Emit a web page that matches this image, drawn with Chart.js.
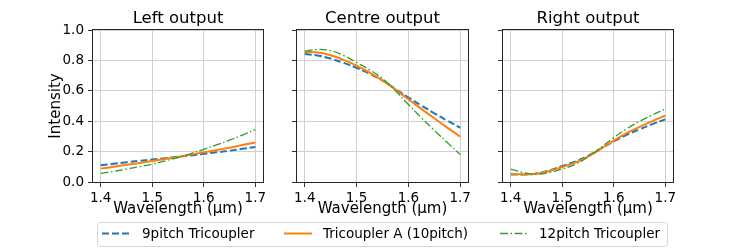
<!DOCTYPE html>
<html><head><meta charset="utf-8">
<script src="https://cdn.jsdelivr.net/npm/chart.js@4/dist/chart.umd.min.js"></script>
<style>
html,body{margin:0;padding:0;background:#fff;}
#wrap{position:relative;width:747px;height:249px;overflow:hidden;background:#fff;}
canvas{position:absolute;top:0;}
#leg{position:absolute;left:0;top:0;}
</style></head><body>
<div id="wrap">
<canvas id="c0" width="280" height="222" style="left:0px"></canvas>
<canvas id="c1" width="200" height="222" style="left:280px"></canvas>
<canvas id="c2" width="210" height="222" style="left:480px"></canvas>
<svg id="leg" width="747" height="249" xmlns="http://www.w3.org/2000/svg"></svg>
</div>
<script>
// ---- data ----
const wavelengths = [1.400,1.425,1.450,1.475,1.500,1.525,1.550,1.575,1.600,1.625,1.650,1.675,1.700];
const panelTitles = ['Left output','Centre output','Right output'];
const seriesNames = ['9pitch Tricoupler','Tricoupler A (10pitch)','12pitch Tricoupler'];
const xTicks = [1.4,1.5,1.6,1.7];
const xTickLabels = ['1.4','1.5','1.6','1.7'];
const yTicks = [0,0.2,0.4,0.6,0.8,1.0];
const yTickLabels = ['0.0','0.2','0.4','0.6','0.8','1.0'];

const left9  = [.110,.120,.130,.139,.148,.157,.166,.175,.185,.195,.206,.218,.230];
const left10 = [.088,.100,.113,.125,.138,.151,.165,.180,.195,.210,.226,.243,.260];
const left12 = [.057,.070,.085,.101,.118,.139,.161,.187,.215,.244,.275,.309,.345];

const centre9  = [.842,.832,.812,.784,.751,.713,.668,.612,.556,.503,.452,.404,.357];
const centre10 = [.855,.852,.834,.803,.766,.720,.668,.608,.544,.481,.419,.358,.298];
const centre12 = [.862,.872,.864,.832,.786,.738,.680,.600,.510,.423,.340,.260,.180];

const right9  = [.050,.050,.056,.076,.105,.134,.172,.219,.267,.310,.347,.381,.412];
const right10 = [.055,.050,.054,.072,.099,.127,.167,.218,.272,.321,.363,.401,.436];
const right12 = [.085,.062,.052,.062,.085,.116,.164,.226,.292,.350,.399,.441,.480];

const panels = [[left9,left10,left12],[centre9,centre10,centre12],[right9,right10,right12]];

// ---- styles ----
const FONT = "'DejaVu Sans', sans-serif";
const colors = ['#1f77b4','#ff7f0e','#2ca02c'];
const dashes = [[7,3],[],[8,2.5,1.5,2.5]];
const widths = [2,2,1.3];
const yWidth = [93,17,23];
const padRight = [17,12,17];

const frame = {
  id:'frame',
  afterDatasetsDraw(chart){
    const {ctx, chartArea:a} = chart;
    ctx.save();
    ctx.strokeStyle = '#262626';
    ctx.lineWidth = 1;
    ctx.strokeRect(Math.round(a.left)-0.5, Math.round(a.top)-0.5, Math.round(a.right-a.left)+1, Math.round(a.bottom-a.top)+1);
    ctx.restore();
  }
};

panels.forEach((series, i) => {
  const datasets = series.map((vals, k) => ({
    label: seriesNames[k],
    data: wavelengths.map((w, j) => ({x: w, y: vals[j]})),
    borderColor: colors[k],
    borderWidth: widths[k],
    borderDash: dashes[k],
    pointRadius: 0,
    fill: false,
    tension: 0.4,
    order: 3 - k
  }));
  new Chart(document.getElementById('c' + i), {
    type: 'line',
    data: {datasets},
    plugins: [frame],
    options: {
      responsive: false,
      animation: false,
      devicePixelRatio: 1,
      layout: {padding: {left: 0, right: padRight[i], top: 0, bottom: 0}},
      plugins: {
        legend: {display: false},
        tooltip: {enabled: false},
        title: {
          display: true, text: panelTitles[i], fullSize: false,
          color: '#000', font: {family: FONT, size: 16.5, weight: 'normal'},
          padding: {top: 8.5, bottom: 1.7}
        }
      },
      scales: {
        x: {
          type: 'linear', min: 1.385, max: 1.715,
          afterBuildTicks: s => { s.ticks = xTicks.map(v => ({value: v})); },
          afterFit: s => { s.height = 40; },
          grid: {color: '#d0d0d0', lineWidth: 1, drawTicks: true, tickLength: 5, tickColor: '#333'},
          border: {display: false},
          ticks: {
            color: '#000', font: {family: FONT, size: 13.5}, padding: 3.5,
            maxRotation: 0, autoSkip: false,
            callback: (v, idx) => xTickLabels[idx]
          },
          title: {
            display: true, text: 'Wavelength (μm)', color: '#000',
            font: {family: FONT, size: 15}, padding: {top: 0, bottom: 3.5}
          }
        },
        y: {
          min: 0, max: 1,
          afterBuildTicks: s => { s.ticks = yTicks.map(v => ({value: v})); },
          afterFit: s => { s.width = yWidth[i]; },
          grid: {color: '#d0d0d0', lineWidth: 1, drawTicks: true, tickLength: 5, tickColor: '#333'},
          border: {display: false},
          ticks: {
            display: i === 0,
            color: '#000', font: {family: FONT, size: 13.5}, padding: 4,
            callback: (v, idx) => yTickLabels[idx]
          },
          title: {
            display: i === 0, text: 'Intensity', color: '#000',
            font: {family: FONT, size: 15}, padding: {top: 47, bottom: 0}
          }
        }
      }
    }
  });
});

// ---- legend (SVG, real text) ----
const NS = 'http://www.w3.org/2000/svg';
const svg = document.getElementById('leg');
function el(tag, attrs, text){
  const e = document.createElementNS(NS, tag);
  for (const k in attrs) e.setAttribute(k, attrs[k]);
  if (text !== undefined) e.textContent = text;
  svg.appendChild(e);
  return e;
}
el('rect', {x: 97.5, y: 222.5, width: 570, height: 24, rx: 3, fill: '#fff', stroke: '#d5d5d5', 'stroke-width': 1});
const lineX = [102, 284, 500];
const textX = [142, 323, 539];
seriesNames.forEach((name, k) => {
  el('line', {x1: lineX[k], y1: 233.5, x2: lineX[k] + 28, y2: 233.5, stroke: colors[k],
    'stroke-width': widths[k], 'stroke-dasharray': dashes[k].length ? dashes[k].join(',') : 'none'});
  el('text', {x: textX[k], y: 238, 'font-family': 'DejaVu Sans', 'font-size': 13.5, fill: '#000'}, name);
});
</script>
</body></html>
